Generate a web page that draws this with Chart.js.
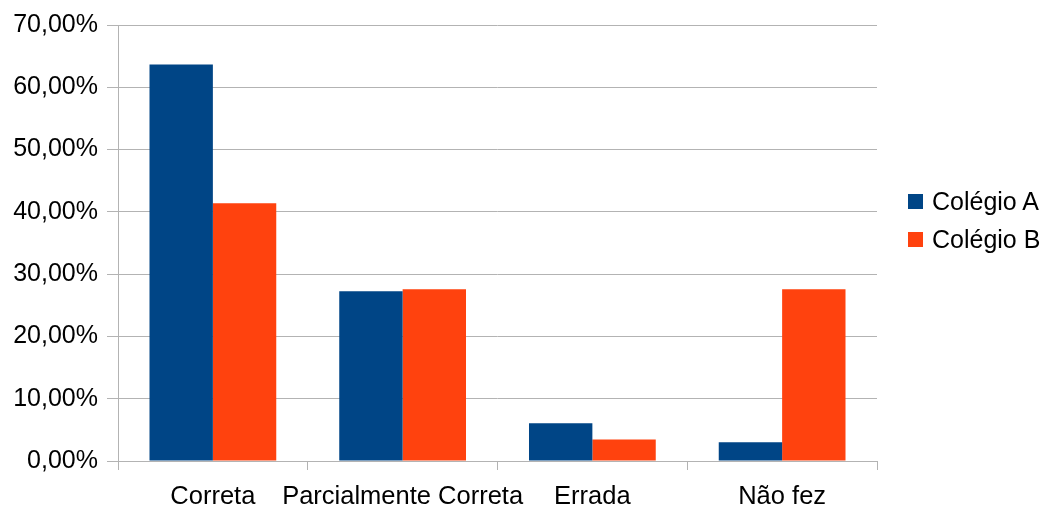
<!DOCTYPE html>
<html lang="pt-BR">
<head>
<meta charset="utf-8">
<title>Colégio A x Colégio B</title>
<script src="https://cdn.jsdelivr.net/npm/chart.js@4.4.1/dist/chart.umd.min.js"></script>
<style>
  html, body { margin: 0; padding: 0; background: #fff; }
  #quadro { position: relative; width: 1048px; height: 508px; }
  #grafico { position: absolute; left: 0; top: 0; }
  .legenda { position: absolute; left: 908px; top: 182px; font: 25px 'Liberation Sans', Arial, sans-serif; color: #000; }
  .legenda div { display: flex; align-items: center; height: 38px; }
  .legenda span { display: inline-block; width: 15px; height: 15px; margin-right: 9px; }
</style>
</head>
<body>
<div id="quadro">
  <canvas id="grafico" width="1048" height="508"></canvas>
  <div class="legenda" id="legenda"></div>
</div>
<script>
/* Respostas por categoria, em % de alunos de cada colégio */
const categorias = ['Correta', 'Parcialmente Correta', 'Errada', 'Não fez'];
const colegioA = [63.64, 27.27, 6.06, 3.03];
const colegioB = [41.38, 27.59, 3.45, 27.59];
const escalaY = { min: 0, max: 70, passo: 10 };

const CORES = { a: '#004586', b: '#ff420e', grade: '#b3b3b3' };
const FONTE = "'Liberation Sans', Arial, sans-serif";

const series = [
  { label: 'Colégio A', data: colegioA, backgroundColor: CORES.a },
  { label: 'Colégio B', data: colegioB, backgroundColor: CORES.b }
];

// Legenda à direita, fora da área do gráfico
document.getElementById('legenda').innerHTML = series
  .map(s => `<div><span style="background:${s.backgroundColor}"></span>${s.label}</div>`)
  .join('');

const pct = v => v.toFixed(2).replace('.', ',') + '%';

new Chart(document.getElementById('grafico'), {
  type: 'bar',
  data: {
    labels: categorias,
    datasets: series.map(s => ({ ...s, borderWidth: 0, categoryPercentage: 0.668, barPercentage: 1 }))
  },
  options: {
    responsive: false,
    animation: false,
    layout: { padding: { top: 25, right: 171, left: 0, bottom: 0 } },
    plugins: { legend: { display: false }, tooltip: { enabled: false } },
    scales: {
      x: {
        border: { display: false },
        grid: {
          offset: true,
          // só as bordas esquerda e direita cruzam a área de plotagem
          color: ctx => (ctx.index === 0 || ctx.index === categorias.length) ? CORES.grade : 'rgba(0,0,0,0)',
          tickColor: CORES.grade,
          tickLength: 9,
          lineWidth: 1
        },
        ticks: {
          color: '#000',
          font: { family: FONTE, size: 25.5 },
          padding: 12,
          autoSkip: false,
          maxRotation: 0,
          minRotation: 0
        },
        afterFit: s => { s.height = 47; }
      },
      y: {
        min: escalaY.min,
        max: escalaY.max,
        border: { display: false },
        grid: { color: CORES.grade, tickColor: CORES.grade, tickLength: 11, lineWidth: 1 },
        ticks: {
          stepSize: escalaY.passo,
          color: '#000',
          font: { family: FONTE, size: 25 },
          padding: 9,
          callback: v => pct(v)
        },
        afterFit: s => { s.width = 118; }
      }
    }
  }
});
</script>
</body>
</html>
